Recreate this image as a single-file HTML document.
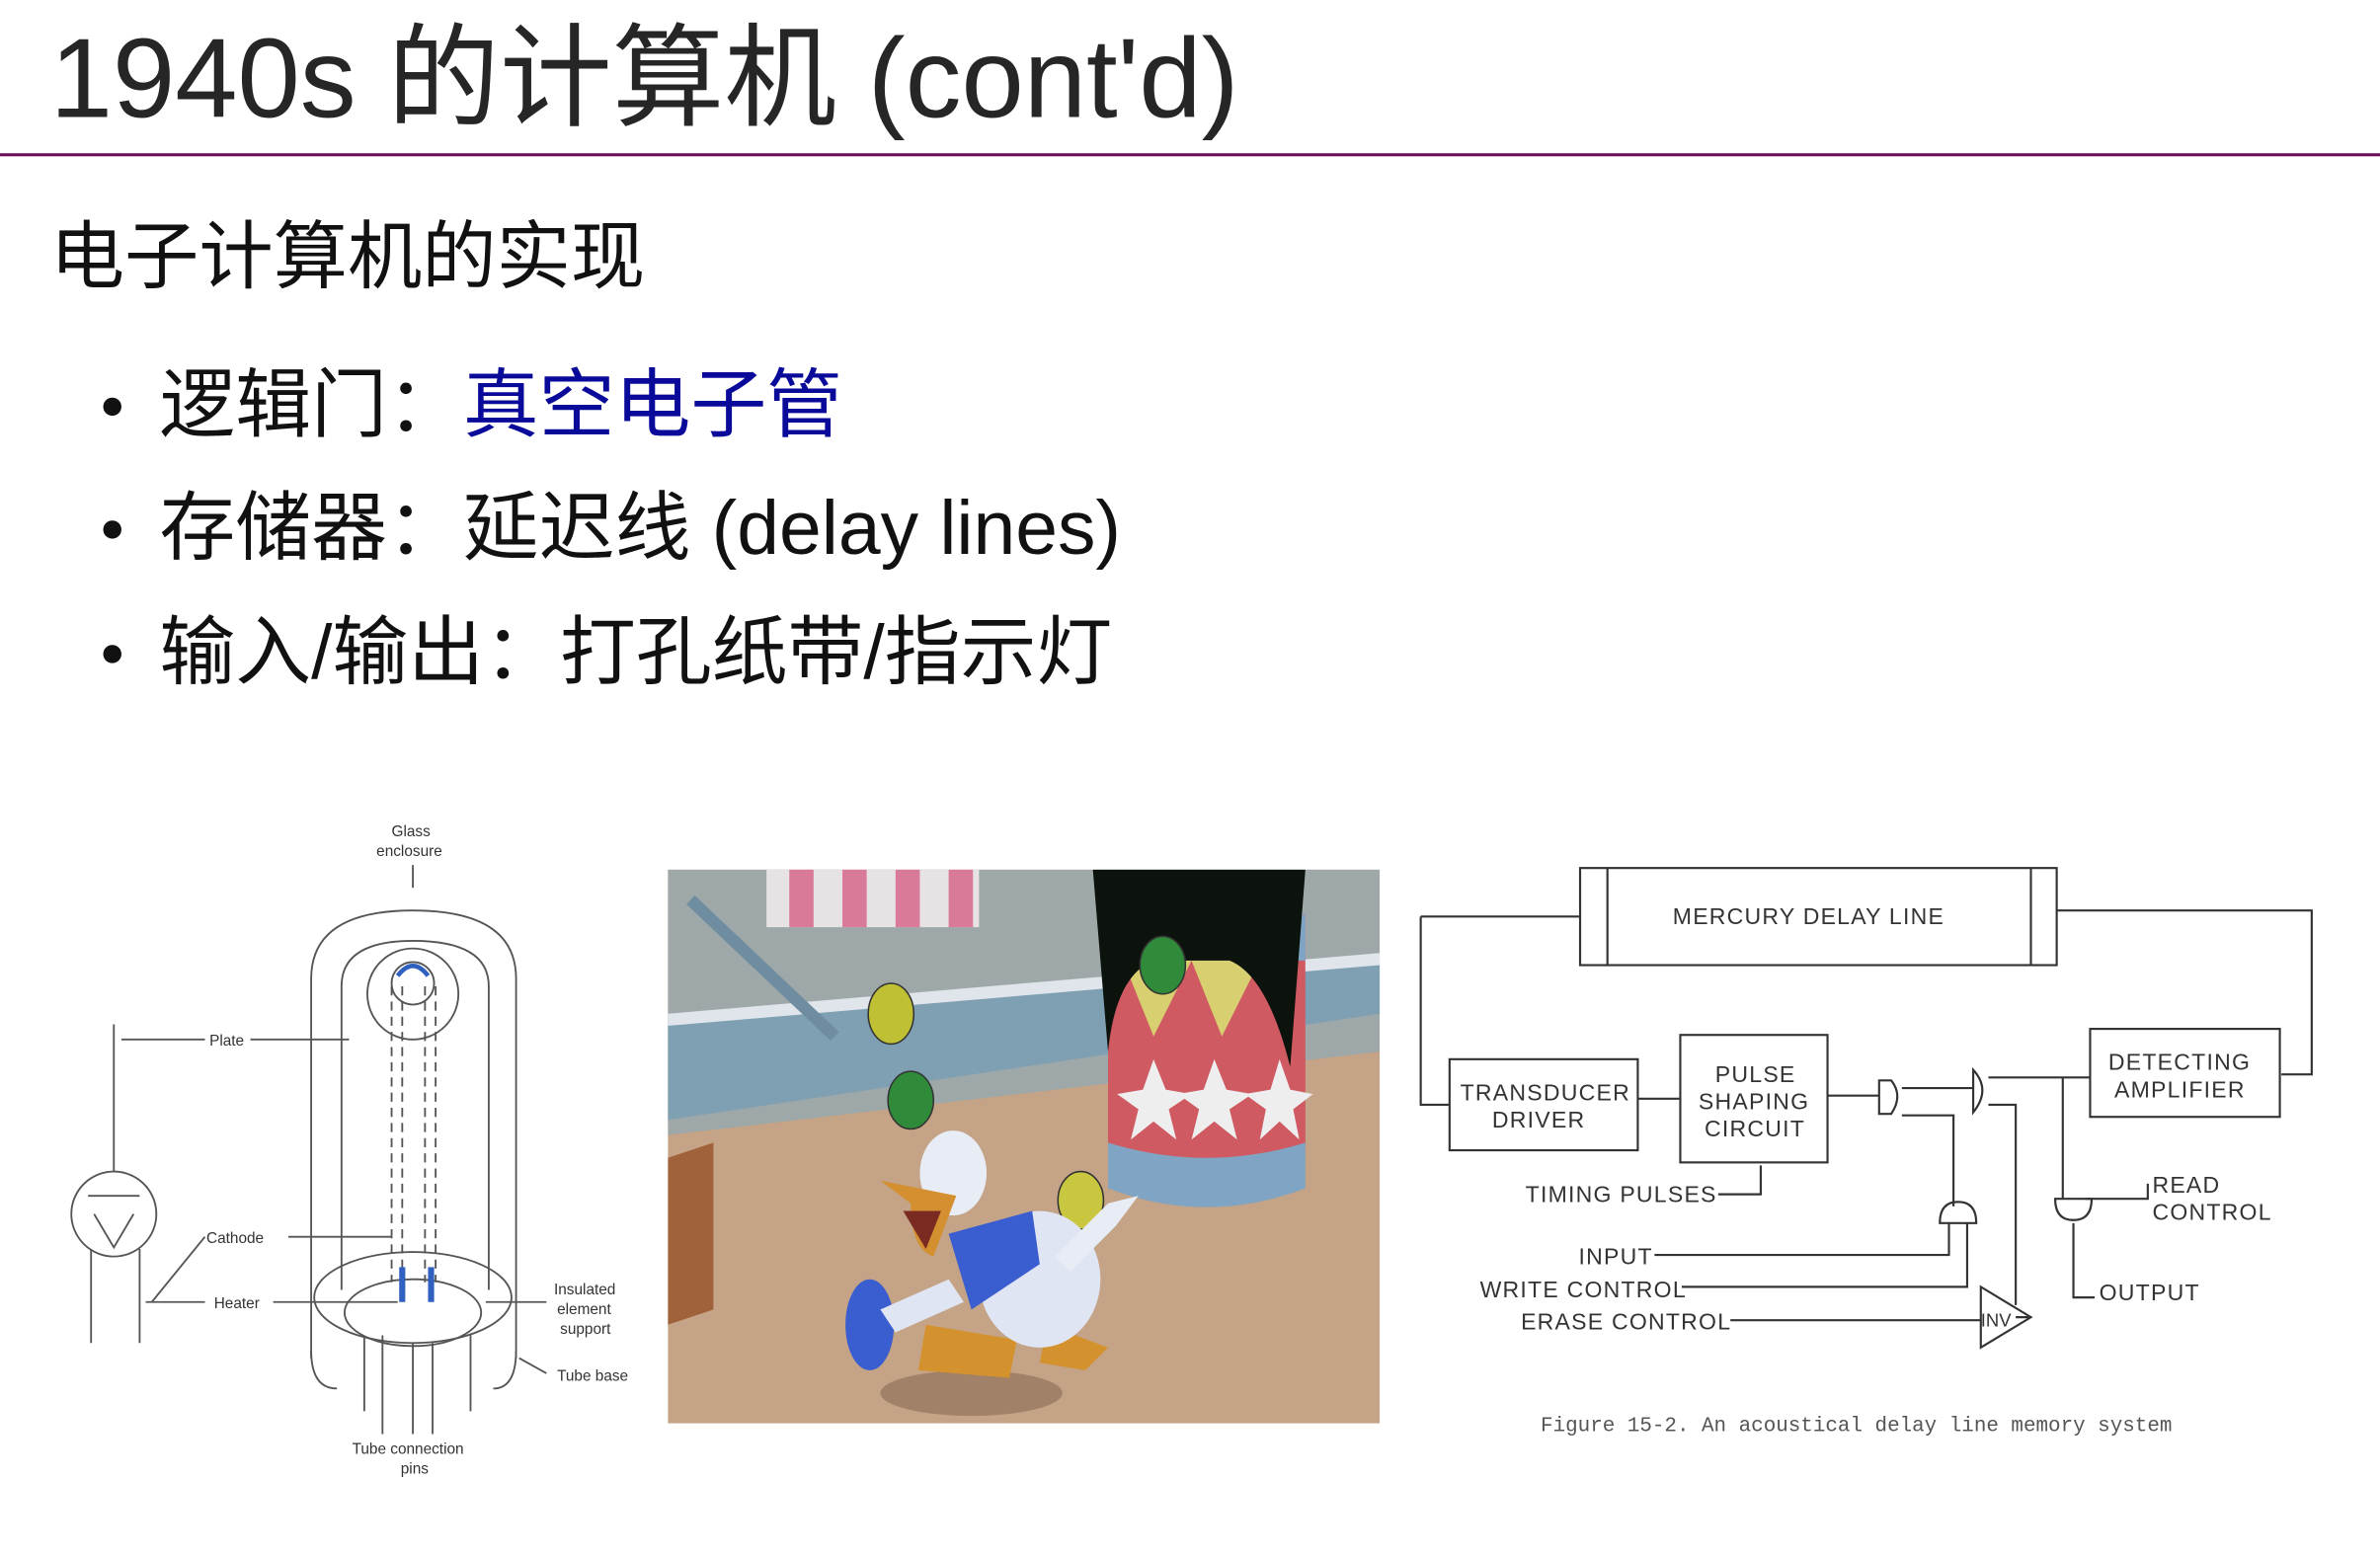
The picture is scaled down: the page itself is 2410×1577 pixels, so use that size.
<!DOCTYPE html>
<html><head><meta charset="utf-8"><style>
html,body{margin:0;padding:0;background:#fff;}
body{width:2410px;height:1576px;overflow:hidden;position:relative;}
#w{position:absolute;left:0;top:0;width:1568px;height:1026px;transform:scale(1.5370);transform-origin:0 0;font-family:"Liberation Sans","Noto Sans CJK SC",sans-serif;}
.t{position:absolute;white-space:nowrap;color:#222;}
.d{position:absolute;width:12px;height:12px;border-radius:50%;background:#111;left:68px;}
</style></head><body><div id="w">
<div class="t" style="left:33px;top:6px;font-size:74px;line-height:92px;color:#262626;">1940s 的计算机 (cont'd)</div>
<div style="position:absolute;left:0;top:101px;width:1568px;height:2px;background:#6e0e5a;"></div>
<div class="t" style="left:33px;top:140px;font-size:49px;line-height:60px;color:#111;">电子计算机的实现</div>
<div class="d" style="top:262px"></div><div class="d" style="top:343px"></div><div class="d" style="top:425px"></div>
<div class="t" style="left:105px;top:236px;font-size:50px;line-height:62px;color:#111;">逻辑门：<span style="color:#0a0a9a">真空电子管</span></div>
<div class="t" style="left:105px;top:317px;font-size:50px;line-height:62px;color:#111;">存储器：延迟线 (delay lines)</div>
<div class="t" style="left:105px;top:399px;font-size:50px;line-height:62px;color:#111;">输入/输出：打孔纸带/指示灯</div>

<!-- vacuum tube -->
<svg style="position:absolute;left:30px;top:535px" width="400" height="450" viewBox="30 535 400 450" font-family="Liberation Sans" font-size="10" fill="#444">
<g fill="none" stroke="#555" stroke-width="1.2">
<path d="M205,895 V645 Q205,600 272,600 Q340,600 340,645 V895"/>
<path d="M225,850 V650 Q225,620 272,620 Q322,620 322,650 V850"/>
<ellipse cx="272" cy="655" rx="30" ry="30"/>
<ellipse cx="272" cy="648" rx="14" ry="14"/>
<path d="M258,650 V845 M287,650 V845 M265,650 V845 M280,650 V845" stroke-dasharray="6 4"/>
<ellipse cx="272" cy="855" rx="65" ry="30"/>
<ellipse cx="272" cy="865" rx="45" ry="22"/>
<path d="M205,890 Q205,915 222,915 M340,890 Q340,915 325,915"/>
<path d="M240,880 V930 M252,880 V945 M272,885 V945 M285,885 V945 M310,880 V930"/>
<circle cx="75" cy="800" r="28"/>
<path d="M75,675 V772 M60,823 V885 M92,823 V885 M58,788 H92 M62,800 L75,822 L88,800"/>
<path d="M80,685 H135 M165,685 H230 M190,815 H258 M100,858 H135 M180,858 H262 M272,570 V585 M320,858 H360 M342,895 L360,905 M100,858 L96,858"/>
<path d="M135,815 L100,858"/>
</g>
<g fill="#333" font-size="10">
<text x="258" y="551">Glass</text><text x="248" y="564">enclosure</text>
<text x="138" y="689">Plate</text><text x="136" y="819">Cathode</text><text x="141" y="862">Heater</text>
<text x="365" y="853">Insulated</text><text x="367" y="866">element</text><text x="369" y="879">support</text>
<text x="367" y="910">Tube base</text><text x="232" y="958">Tube connection</text><text x="264" y="971">pins</text>
</g>
<path d="M262,643 Q272,630 282,643" stroke="#3060c0" stroke-width="3" fill="none"/>
<path d="M265,835 V858 M284,835 V858" stroke="#3060c0" stroke-width="4"/>
</svg>

<!-- cartoon -->
<svg style="position:absolute;left:440px;top:573px" width="469" height="365" viewBox="0 0 469 365">
<rect width="469" height="365" fill="#c4a386"/>
<path d="M0,0 H469 V120 L0,175 Z" fill="#9fa8a8"/>
<path d="M0,100 L469,60 V95 L0,165 Z" fill="#7f9fb3"/>
<path d="M0,95 L469,55 V63 L0,103 Z" fill="#dfe5ea"/>
<rect x="65" y="0" width="140" height="38" fill="#e7e3e5"/>
<g fill="#d97a99"><rect x="80" y="0" width="16" height="38"/><rect x="115" y="0" width="16" height="38"/><rect x="150" y="0" width="16" height="38"/><rect x="185" y="0" width="16" height="38"/></g>
<path d="M15,20 L110,110" stroke="#6f8da0" stroke-width="8"/>
<path d="M0,190 L30,180 V290 L0,300 Z" fill="#a0623a"/>
<path d="M290,30 H420 V190 Q355,210 290,190 Z" fill="#cf5a62"/>
<path d="M290,30 H420 V60 H290 Z" fill="#80a5c4"/>
<path d="M290,180 Q355,200 420,180 V210 Q355,235 290,210 Z" fill="#80a5c4"/>
<path d="M300,60 L320,110 L345,60 L365,110 L390,60 L410,100 V60 Z" fill="#d8d070"/>
<path d="M280,0 H420 L410,130 Q395,70 370,60 L320,60 Q295,70 290,120 Z" fill="#0c120c"/>
<g fill="#eee"><polygon points="320,125 328,145 345,148 330,158 335,178 320,166 305,178 310,158 296,148 313,145"/><polygon points="360,125 368,145 385,148 370,158 375,178 360,166 345,178 350,158 336,148 353,145"/><polygon points="403,125 410,145 425,148 412,158 416,178 403,166 390,178 394,158 380,148 397,145"/></g>
<ellipse cx="147" cy="95" rx="15" ry="20" fill="#c0c035" stroke="#333"/>
<ellipse cx="160" cy="152" rx="15" ry="19" fill="#2f8a3a" stroke="#333"/>
<ellipse cx="272" cy="218" rx="15" ry="19" fill="#c9c63f" stroke="#333"/>
<ellipse cx="326" cy="63" rx="15" ry="19" fill="#2f8a3a" stroke="#333"/>
<ellipse cx="200" cy="345" rx="60" ry="15" fill="#8a6d55" opacity=".6"/>
<path d="M170,300 L230,310 L225,335 L165,330 Z M250,300 L290,315 L275,330 L245,325 Z" fill="#d4922f"/>
<ellipse cx="245" cy="270" rx="40" ry="45" fill="#dfe5f3"/>
<path d="M185,240 L240,225 L245,260 L200,290 Z" fill="#3a5ed0"/>
<ellipse cx="133" cy="300" rx="16" ry="30" fill="#3a5ed0"/>
<path d="M140,290 L185,270 L195,285 L150,305 Z" fill="#dfe5f3"/>
<ellipse cx="188" cy="200" rx="22" ry="28" fill="#e8ecf4"/>
<path d="M140,205 L190,215 L175,255 Q160,250 160,220 Z" fill="#d49030"/>
<path d="M155,225 L180,225 L170,250 Z" fill="#7a2a20"/>
<path d="M255,255 L290,220 L310,215 L295,235 L265,265 Z" fill="#e8ecf4"/>
</svg>

<!-- delay line -->
<svg style="position:absolute;left:930px;top:560px" width="610" height="400" viewBox="930 560 610 400" font-family="Liberation Sans" font-size="15" letter-spacing="0.8">
<g fill="none" stroke="#333" stroke-width="1.4">
<rect x="1041" y="572" width="314" height="64"/>
<path d="M1059,572 V636 M1338,572 V636"/>
<path d="M936,604 H1041 M936,604 V728 H955 M1355,600 H1523 V708 H1503"/>
<rect x="955" y="698" width="124" height="60"/>
<rect x="1107" y="682" width="97" height="84"/>
<rect x="1377" y="678" width="125" height="58"/>
<path d="M1079,724 H1107 M1204,722 H1238 M1253,717 H1300 M1253,735 H1287 V795 M1310,710 H1377 M1310,728 H1328 V860 M1359,710 V790 M1366,806 V855 H1380 M1374,790 H1415 V780"/>
<path d="M1238,712 H1246 Q1254,722 1246,734 H1238 Z M1300,705 Q1312,718 1300,733 Z"/>
<path d="M1278,806 Q1278,792 1290,792 Q1302,792 1302,806 Z M1354,790 H1378 Q1378,804 1366,804 Q1354,804 1354,790 Z"/>
<path d="M1284,806 V827 H1090 M1296,806 V848 H1108 M1140,870 H1305 M1305,848 V888 L1338,868 Z M1338,868 H1328 M1132,787 H1160 V768"/>
</g>
<g fill="#333">
<text x="1102" y="609">MERCURY DELAY LINE</text>
<text x="962" y="725">TRANSDUCER</text><text x="983" y="743">DRIVER</text>
<text x="1130" y="713">PULSE</text><text x="1119" y="731">SHAPING</text><text x="1123" y="749">CIRCUIT</text>
<text x="1389" y="705">DETECTING</text><text x="1393" y="723">AMPLIFIER</text>
<text x="1005" y="792">TIMING PULSES</text><text x="1418" y="786">READ</text><text x="1418" y="804">CONTROL</text>
<text x="1040" y="833">INPUT</text><text x="975" y="855">WRITE CONTROL</text><text x="1002" y="876">ERASE CONTROL</text>
<text x="1383" y="857">OUTPUT</text><text x="1305" y="874" font-size="12" letter-spacing="0">INV</text>
<text x="1015" y="943" font-family="Liberation Mono" font-size="13.6" letter-spacing="0" fill="#555">Figure 15-2.  An acoustical delay line memory system</text>
</g>
</svg>
</div></body></html>
